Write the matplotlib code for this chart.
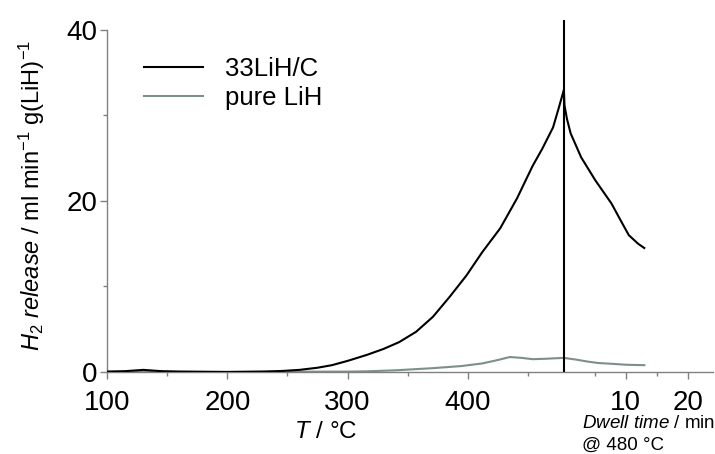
import matplotlib.pyplot as plt
import numpy as np

plt.rcParams['font.family'] = ['Liberation Sans', 'DejaVu Sans']
plt.rcParams['mathtext.fontset'] = 'custom'
plt.rcParams['mathtext.rm'] = 'Liberation Sans'
plt.rcParams['mathtext.it'] = 'Liberation Sans:italic'

# heating ramp, 33LiH/C
ramp_T = [100, 115, 125, 130, 135, 145, 160, 200, 230, 245, 260, 275, 287, 300, 316, 330, 343,
          357, 371, 385, 399, 412, 427, 441, 454, 462, 471, 476, 480]
ramp_c = [0.05, 0.1, 0.2, 0.25, 0.2, 0.1, 0.05, 0.0, 0.05, 0.12, 0.25, 0.5, 0.8, 1.3, 2.0, 2.7, 3.5,
          4.7, 6.45, 8.8, 11.3, 14.0, 16.8, 20.3, 24.1, 26.1, 28.6, 31.0, 33.0]
# dwell at 480 °C, 33LiH/C (minutes)
dwell_t_c = [0.1, 0.5, 1.1, 2.8, 5.1, 7.7, 9.2, 10.5, 12.0, 13.0]
dwell_c = [31.2, 29.6, 27.9, 25.1, 22.4, 19.7, 17.7, 16.0, 15.0, 14.5]

# pure LiH
ramp_T_p = [100, 200, 300, 316, 340, 371, 395, 412, 425, 435, 445, 454, 465, 472, 480]
ramp_p = [0.02, 0.02, 0.05, 0.08, 0.2, 0.45, 0.7, 1.0, 1.4, 1.75, 1.65, 1.5, 1.55, 1.6, 1.65]
dwell_t_p = [0.5, 2.0, 4.0, 5.6, 8.0, 10.0, 13.0]
dwell_p = [1.6, 1.45, 1.2, 1.05, 0.95, 0.85, 0.8]

T_dwell = 480
scale = 5.15  # axis units per minute of dwell time


def dwell_x(t):
    return T_dwell + np.asarray(t) * scale


fig = plt.figure(figsize=(7.15, 4.54), dpi=100)
ax = fig.add_axes([0.150, 0.1806, 0.847, 0.776])

x_c = np.concatenate([ramp_T, dwell_x(dwell_t_c)])
y_c = np.concatenate([ramp_c, dwell_c])
x_p = np.concatenate([ramp_T_p, dwell_x(dwell_t_p)])
y_p = np.concatenate([ramp_p, dwell_p])

ax.plot(x_c, y_c, color='black', lw=1.5, label='33LiH/C', zorder=3)
ax.plot(x_p, y_p, color='#7d8f8b', lw=1.5, label='pure LiH', zorder=2)
ax.plot([T_dwell, T_dwell], [0, 41], color='black', lw=1.5, zorder=4)

ax.set_xlim(100, 604)
ax.set_ylim(0, 41.2)

for s in ['top', 'right']:
    ax.spines[s].set_visible(False)
for s in ['left', 'bottom']:
    ax.spines[s].set_color('#808080')
    ax.spines[s].set_linewidth(1.0)
ax.spines['left'].set_bounds(0, 40)

xt = [100, 200, 300, 400, dwell_x(10), dwell_x(20)]
ax.set_xticks(xt)
ax.set_xticklabels(['100', '200', '300', '400', '10', '20'])
ax.set_xticks([150, 250, 350, 450, dwell_x(5), dwell_x(15)], minor=True)
ax.set_yticks([0, 20, 40])
ax.set_yticks([10, 30], minor=True)
ax.tick_params(which='major', direction='out', length=5, width=1.0, color='#808080',
               labelsize=20, pad=2)
ax.tick_params(axis='x', which='major', pad=8)
ax.tick_params(which='minor', direction='out', length=3, width=1.0, color='#808080')

ax.set_ylabel(r'$H_2$ $release$ / ml min$^{-1}$ g(LiH)$^{-1}$', fontsize=17, labelpad=4)
ax.yaxis.set_label_coords(-0.10, 0.5)

fig.text(0.455, 0.048, r'$T$ / °C', fontsize=17.5, ha='center', va='center')
fig.text(0.814, 0.068, r'$Dwell$ $time$ / min', fontsize=13.5, ha='left', va='center')
fig.text(0.814, 0.02, '@ 480 °C', fontsize=13.5, ha='left', va='center')

ax.legend(loc='upper left', bbox_to_anchor=(0.043, 0.923), frameon=False, fontsize=18.5,
          handlelength=2.3, handletextpad=0.85, labelspacing=0.2, borderaxespad=0)

fig.savefig('out.png', dpi=100)
